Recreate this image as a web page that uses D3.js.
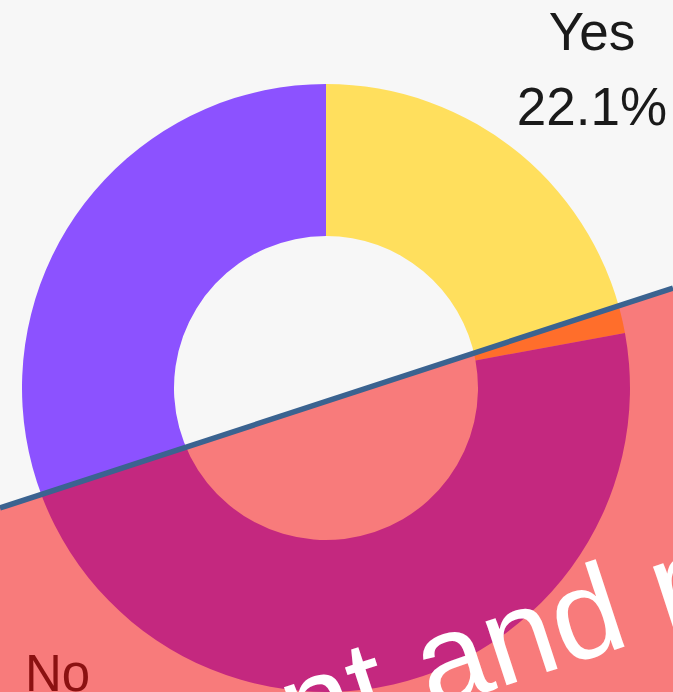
<!DOCTYPE html>
<html>
<head>
<meta charset="utf-8">
<script src="https://cdn.jsdelivr.net/npm/d3@7"></script>
<style>
  html, body { margin: 0; padding: 0; background: #f7f7f7; }
  svg { display: block; }
  text { font-family: "Liberation Sans", Arial, sans-serif; }
</style>
</head>
<body>
<script>
// Survey answers and their shares (percent)
const categories = ["Yes", "No"];
const shares = [22.1, 77.9];
const colorsTop = ["#ffdf5d", "#8c52ff"];
const colorsBottom = ["#ff6e2b", "#c4287f"];
const headline = "Spent and paid";

const W = 673, H = 692;
const cx = 326, cy = 388, outerR = 304, innerR = 152;

// dividing line across the view
const cut = { x0: 0, y0: 508, x1: W, y1: 288 };
const slope = (cut.y1 - cut.y0) / (cut.x1 - cut.x0);
const yAt = x => cut.y0 + slope * (x - cut.x0);

const svg = d3.select("body").append("svg")
  .attr("width", W).attr("height", H);

svg.append("rect").attr("width", W).attr("height", H).attr("fill", "#f7f7f7");

const defs = svg.append("defs");
const topPoly = [[-10, -10], [W + 10, -10], [W + 10, yAt(W + 10)], [-10, yAt(-10)]];
const botPoly = [[-10, yAt(-10)], [W + 10, yAt(W + 10)], [W + 10, H + 10], [-10, H + 10]];
const pts = poly => poly.map(p => p.join(",")).join(" ");

defs.append("clipPath").attr("id", "clipTop")
  .append("polygon").attr("points", pts(topPoly));
defs.append("clipPath").attr("id", "clipBottom")
  .append("polygon").attr("points", pts(botPoly));

const pie = d3.pie().sort(null).value(d => d)(shares);
const arc = d3.arc().innerRadius(innerR).outerRadius(outerR);

// upper part of the donut
svg.append("g").attr("clip-path", "url(#clipTop)")
  .append("g")
  .attr("transform", `translate(${cx},${cy})`)
  .selectAll("path").data(pie).join("path")
  .attr("d", arc)
  .attr("fill", (d, i) => colorsTop[i]);

// highlighted lower band
const lower = svg.append("g").attr("clip-path", "url(#clipBottom)");
lower.append("polygon")
  .attr("points", pts(botPoly))
  .attr("fill", "#f87b7b");
lower.append("g")
  .attr("transform", `translate(${cx},${cy})`)
  .selectAll("path").data(pie).join("path")
  .attr("d", arc)
  .attr("fill", (d, i) => colorsBottom[i]);

const angle = Math.atan(slope) * 180 / Math.PI;
lower.append("text")
  .attr("transform", `translate(82,824) rotate(${angle})`)
  .attr("font-size", 127)
  .attr("fill", "#ffffff")
  .text(headline);

// divider
svg.append("line")
  .attr("x1", cut.x0).attr("y1", cut.y0)
  .attr("x2", cut.x1).attr("y2", cut.y1)
  .attr("stroke", "#3b6390").attr("stroke-width", 5.5);

// labels
svg.append("text")
  .attr("x", 592).attr("y", 50)
  .attr("text-anchor", "middle")
  .attr("font-size", 53)
  .attr("fill", "#1a1a1a")
  .text(categories[0]);
svg.append("text")
  .attr("x", 592).attr("y", 125)
  .attr("text-anchor", "middle")
  .attr("font-size", 53)
  .attr("fill", "#1a1a1a")
  .text(d3.format(".1f")(shares[0]) + "%");

svg.append("text")
  .attr("x", 25).attr("y", 691)
  .attr("font-size", 51)
  .attr("fill", "#8b1111")
  .text(categories[1]);
</script>
</body>
</html>
